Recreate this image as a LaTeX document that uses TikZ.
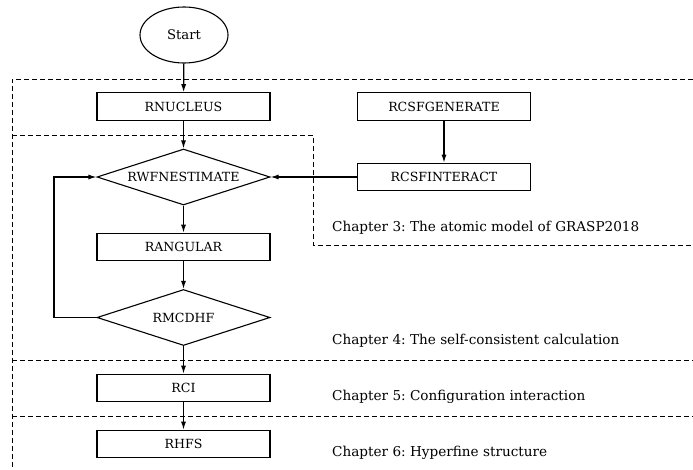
\documentclass[tikz,border=0pt]{standalone}
\usepackage{fontspec}
\setmainfont{DejaVu Serif}
\frenchspacing
\usetikzlibrary{shapes.geometric,arrows.meta}
\begin{document}
\begin{tikzpicture}[x=1pt,y=-1pt,
    font=\fontsize{12.6}{14}\selectfont,
    prog/.style={draw,line width=1.1pt,rectangle,minimum width=173pt,minimum height=27.5pt,inner sep=0pt},
    test/.style={draw,line width=1.1pt,diamond,minimum width=173pt,minimum height=56pt,inner sep=0pt},
    flow/.style={line width=1.2pt,-{Latex[length=8pt,width=5pt]}},
    part/.style={dashed,line width=0.9pt,dash pattern=on 5pt off 3pt},
    chap/.style={anchor=west,inner sep=0pt,font=\fontsize{13.6}{15}\selectfont}]
                \useasboundingbox (0,0) rectangle (693,469);
                % boxes and tests
                \node[draw,line width=1.1pt,ellipse,minimum width=88pt,minimum height=56pt,font=\fontsize{13.2}{15}\selectfont] (start) at (184,35) {Start};
                \node[prog] (nucleus) at (183.5,106.5) {RNUCLEUS};
                \node[test] (estimate) at (183.5,177) {\makebox[0pt]{RWFNESTIMATE}};
                \node[prog] (angular) at (183.5,247) {RANGULAR};
                \node[test] (mcdhf) at (183.5,317.5) {\makebox[0pt]{RMCDHF}};
                \node[prog] (ci) at (183.5,388) {RCI};
                \node[prog] (hfs) at (183.5,444) {RHFS};
                \node[prog] (generate) at (444,106.5) {RCSFGENERATE};
                \node[prog] (interact) at (444,177) {RCSFINTERACT};
                \coordinate (loopB) at (54,317.5);
                \coordinate (loopT) at (54,177);
                % chapters
                \draw[part] (693,79)--(12,79)--(12,469);
                \draw[part] (12,135)--(313,135)--(313,245)--(693,245);
                \draw[part] (12,360)--(693,360);
                \draw[part] (12,416)--(693,416);
                \node[chap] (ch3) at (332,228) {Chapter 3: The atomic model of GRASP2018};
                \node[chap] (ch4) at (332,341) {Chapter 4: The self-consistent calculation};
                \node[chap] (ch5) at (332,397) {Chapter 5: Configuration interaction};
                \node[chap] (ch6) at (332,453) {Chapter 6: Hyperfine structure};
                % connectors
                \draw[flow] (start)--(nucleus);
                \draw[flow] (nucleus)--(estimate);
                \draw[flow] (estimate)--(angular);
                \draw[flow] (angular)--(mcdhf);
                \draw[flow] (mcdhf)--(ci);
                \draw[flow] (ci)--(hfs);
                \draw[flow] (generate)--(interact);
                \draw[flow] (interact)--(estimate);
                \draw[flow] (mcdhf.west)--(loopB)--(loopT)--(estimate.west);
\end{tikzpicture}
\end{document}
